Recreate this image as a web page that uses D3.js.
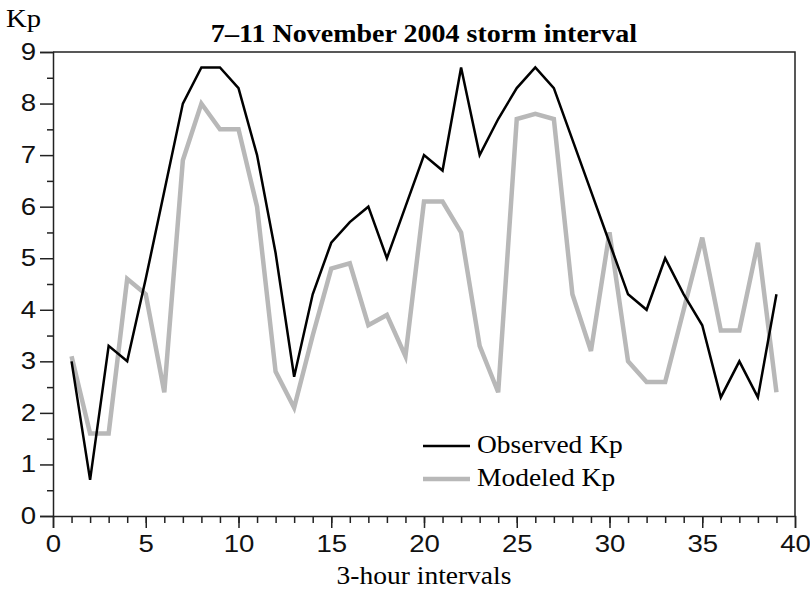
<!DOCTYPE html>
<html>
<head>
<meta charset="utf-8">
<script src="https://cdn.jsdelivr.net/npm/d3@7"></script>
<style>
  body { margin: 0; background: #fff; }
  svg { display: block; }
</style>
</head>
<body>
<svg id="chart" width="810" height="590"></svg>
<script>
// Kp data, one value per 3-hour interval
var intervals = d3.range(1, 40);
var observedKp = [3.0, 0.7, 3.3, 3.0, 4.6, 6.3, 8.0, 8.7, 8.7, 8.3,
                  7.0, 5.1, 2.7, 4.3, 5.3, 5.7, 6.0, 5.0, 6.0, 7.0,
                  6.7, 8.7, 7.0, 7.7, 8.3, 8.7, 8.3, 7.3, 6.3, 5.3,
                  4.3, 4.0, 5.0, 4.3, 3.7, 2.3, 3.0, 2.3, 4.3];
var modeledKp = [3.1, 1.6, 1.6, 4.6, 4.3, 2.4, 6.9, 8.0, 7.5, 7.5,
                 6.0, 2.8, 2.1, 3.5, 4.8, 4.9, 3.7, 3.9, 3.1, 6.1,
                 6.1, 5.5, 3.3, 2.4, 7.7, 7.8, 7.7, 4.3, 3.2, 5.5,
                 3.0, 2.6, 2.6, 4.0, 5.4, 3.6, 3.6, 5.3, 2.4];
var xTicks = [0, 5, 10, 15, 20, 25, 30, 35, 40];
var yTicks = [0, 1, 2, 3, 4, 5, 6, 7, 8, 9];
var seriesNames = ['Observed Kp', 'Modeled Kp'];

var svg = d3.select('#chart');

// plot box (window.top is taken, so use other names)
var plotLeft = 53, plotRight = 795, plotTop = 52, plotBottom = 516;
var serif = '"Liberation Serif", "Times New Roman", serif';
var sans = '"Liberation Sans", Arial, sans-serif';
// the original text is a bit wide for its height
var serifStretch = 1.1, sansStretch = 1.2;

var x = d3.scaleLinear().domain([0, 40]).range([plotLeft, plotRight]);
var y = d3.scaleLinear().domain([0, 9]).range([plotBottom, plotTop]);

///*********** frame ************/
svg.append('path')
  .attr('d', 'M' + plotLeft + ',' + plotTop + 'H' + plotRight + 'V' + plotBottom)
  .attr('fill', 'none')
  .attr('stroke', '#222')
  .attr('stroke-width', 1.5);

///*********** axes ************/
// minor ticks first
svg.append('g')
  .attr('transform', 'translate(' + plotLeft + ',0)')
  .call(d3.axisLeft(y).tickValues(d3.range(0.5, 9, 1)).tickSize(6).tickFormat(''))
  .call(function(g) { g.select('.domain').remove(); })
  .selectAll('line').attr('stroke', '#222').attr('stroke-width', 1.5);

svg.append('g')
  .attr('transform', 'translate(0,' + plotBottom + ')')
  .call(d3.axisBottom(x).tickValues(d3.range(1, 40)).tickSize(7).tickFormat(''))
  .call(function(g) { g.select('.domain').remove(); })
  .selectAll('line').attr('stroke', '#222').attr('stroke-width', 1.5);

var yAxis = svg.append('g')
  .attr('transform', 'translate(' + plotLeft + ',0)')
  .call(d3.axisLeft(y).tickValues(yTicks).tickSize(13).tickFormat(d3.format('d')))
  .attr('font-family', sans)
  .attr('font-size', 23);

yAxis.selectAll('text')
  .attr('x', -17 / sansStretch)
  .attr('transform', 'scale(' + sansStretch + ',1)');

var xAxis = svg.append('g')
  .attr('transform', 'translate(0,' + plotBottom + ')')
  .call(d3.axisBottom(x).tickValues(xTicks).tickSize(12).tickPadding(8).tickFormat(d3.format('d')))
  .attr('font-family', sans)
  .attr('font-size', 23);

xAxis.selectAll('text')
  .attr('transform', 'scale(' + sansStretch + ',1)');

[yAxis, xAxis].forEach(function(ax) {
  ax.select('.domain').attr('stroke', '#222').attr('stroke-width', 1.5);
  ax.selectAll('line').attr('stroke', '#222').attr('stroke-width', 1.5);
  ax.selectAll('text').attr('fill', '#111');
});

///*********** lines ************/
var lineGenerator = d3.line()
  .x(function(d) { return x(d[0]); })
  .y(function(d) { return y(d[1]); });

svg.append('path')
  .datum(d3.zip(intervals, modeledKp))
  .attr('d', lineGenerator)
  .attr('fill', 'none')
  .attr('stroke', '#b8b8b8')
  .attr('stroke-width', 4.5)
  .attr('stroke-linejoin', 'miter');

svg.append('path')
  .datum(d3.zip(intervals, observedKp))
  .attr('d', lineGenerator)
  .attr('fill', 'none')
  .attr('stroke', '#000')
  .attr('stroke-width', 2.5)
  .attr('stroke-linejoin', 'miter');

///*********** text ************/
function serifText(px, py, size) {
  return svg.append('text')
    .attr('transform', 'translate(' + px + ',' + py + ') scale(' + serifStretch + ',1)')
    .attr('font-family', serif)
    .attr('font-size', size);
}

serifText((plotLeft + plotRight) / 2, 42, 25.5)
  .attr('text-anchor', 'middle')
  .attr('font-weight', 'bold')
  .text('7–11 November 2004 storm interval');

serifText(6, 27, 26)
  .text('Kp');

serifText((plotLeft + plotRight) / 2, 584, 25)
  .attr('text-anchor', 'middle')
  .text('3-hour intervals');

///*********** legend ************/
var legend = svg.append('g')
  .selectAll('g')
  .data(seriesNames)
  .join('g')
  .attr('transform', function(d, i) { return 'translate(423,' + (446 + i * 33) + ')'; });

legend.append('line')
  .attr('x1', 0).attr('x2', 47)
  .attr('stroke', function(d, i) { return i === 0 ? '#000' : '#b8b8b8'; })
  .attr('stroke-width', function(d, i) { return i === 0 ? 2.5 : 4.5; });

legend.append('text')
  .attr('transform', 'translate(54,7) scale(' + serifStretch + ',1)')
  .attr('font-family', serif)
  .attr('font-size', 25)
  .text(function(d) { return d; });
</script>
</body>
</html>
